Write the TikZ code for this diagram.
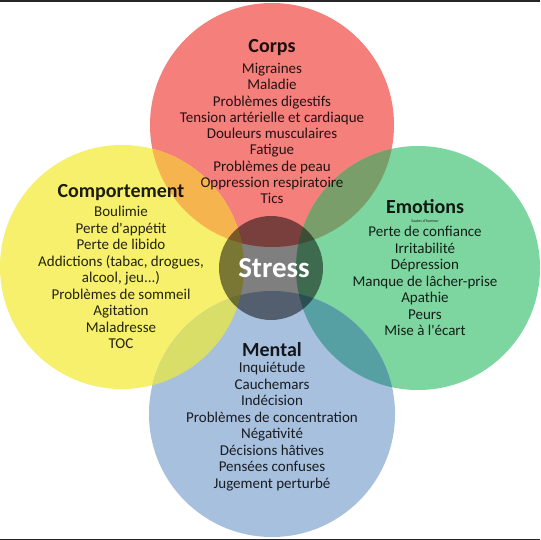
\documentclass[tikz,border=0pt]{standalone}
\usepackage{fontspec}
\setmainfont{Carlito}

\definecolor{corpsred}{RGB}{244,127,123}
\definecolor{compyellow}{RGB}{246,240,108}
\definecolor{emogreen}{RGB}{125,213,160}
\definecolor{mentalblue}{RGB}{167,192,222}
\definecolor{lensorange}{RGB}{246,180,78}
\definecolor{lensolive}{RGB}{122,158,106}
\definecolor{lenslime}{RGB}{216,222,104}
\definecolor{lensteal}{RGB}{86,160,164}

\tikzset{
  title/.style={font=\fontsize{20}{22}\selectfont\bfseries, text opacity=0.88},
  item/.style={font=\fontsize{15}{16}\selectfont, text height=10pt, text depth=3pt, inner sep=0pt, text opacity=0.85},
  tiny/.style={font=\fontsize{4}{4}\selectfont, text opacity=0.8}
}

\begin{document}
\begin{tikzpicture}[x=1pt,y=-1pt]

\useasboundingbox (0,0) rectangle (540,540);
\fill[white] (0,0) rectangle (540,540);
\fill[black!85] (0,0) rectangle (540,1.6);
\fill[black!85] (0,538.8) rectangle (540,540);

% the four circles
\fill[corpsred] (272,125) circle (122);
\fill[compyellow] (122,267) circle (122);
\fill[emogreen] (418,268) circle (122);
\fill[mentalblue] (272,414) circle (123);

% overlaps
\begin{scope}
\clip (122,267) circle (122);
\fill[lensorange] (272,125) circle (122);
\end{scope}
\begin{scope}
\clip (418,268) circle (122);
\fill[lensolive] (272,125) circle (122);
\end{scope}
\begin{scope}
\clip (122,267) circle (122);
\fill[lenslime] (272,414) circle (123);
\end{scope}
\begin{scope}
\clip (418,268) circle (122);
\fill[lensteal] (272,414) circle (123);
\end{scope}

% centre
\fill[black, opacity=0.5] (271,268) circle (52);
\node[font=\fontsize{29}{30}\selectfont\bfseries, text=white] (stress) at (274,268) {Stress};

% Corps
\node[title] (corps) at (272,48) {Corps};
\node[item] (c1) at (272,70) {Migraines};
\node[item] (c2) at (272,86.3) {Maladie};
\node[item] (c3) at (272,102.6) {Problèmes digestifs};
\node[item] (c4) at (272,118.9) {Tension artérielle et cardiaque};
\node[item] (c5) at (272,135.2) {Douleurs musculaires};
\node[item] (c6) at (272,151.5) {Fatigue};
\node[item] (c7) at (272,167.8) {Problèmes de peau};
\node[item] (c8) at (272,184.1) {Oppression respiratoire};
\node[item] (c9) at (272,200.4) {Tics};

% Comportement
\node[title] (comp) at (121,193) {Comportement};
\node[item] (p1) at (121,213) {Boulimie};
\node[item] (p2) at (121,229.5) {Perte d\textquotesingle appétit};
\node[item] (p3) at (121,246) {Perte de libido};
\node[item] (p4) at (121,262.5) {Addictions (tabac, drogues,};
\node[item] (p5) at (121,279) {alcool, jeu...)};
\node[item] (p6) at (121,295.5) {Problèmes de sommeil};
\node[item] (p7) at (121,312) {Agitation};
\node[item] (p8) at (121,328.5) {Maladresse};
\node[item] (p9) at (121,345) {TOC};

% Emotions
\node[title] (emo) at (425,207) {Emotions};
\node[tiny] (e0) at (425,221) {Sautes d\textquotesingle humeur};
\node[item] (e1) at (425,233) {Perte de confiance};
\node[item] (e2) at (425,249.5) {Irritabilité};
\node[item] (e3) at (425,266) {Dépression};
\node[item] (e4) at (425,282.5) {Manque de lâcher-prise};
\node[item] (e5) at (425,299) {Apathie};
\node[item] (e6) at (425,315.5) {Peurs};
\node[item] (e7) at (425,332) {Mise à l\textquotesingle écart};

% Mental
\node[title] (mental) at (272,350) {Mental};
\node[item] (m1) at (272,369) {Inquiétude};
\node[item] (m2) at (272,385.5) {Cauchemars};
\node[item] (m3) at (272,402) {Indécision};
\node[item] (m4) at (272,418.5) {Problèmes de concentration};
\node[item] (m5) at (272,435) {Négativité};
\node[item] (m6) at (272,451.5) {Décisions hâtives};
\node[item] (m7) at (272,468) {Pensées confuses};
\node[item] (m8) at (272,484.5) {Jugement perturbé};

\end{tikzpicture}
\end{document}
